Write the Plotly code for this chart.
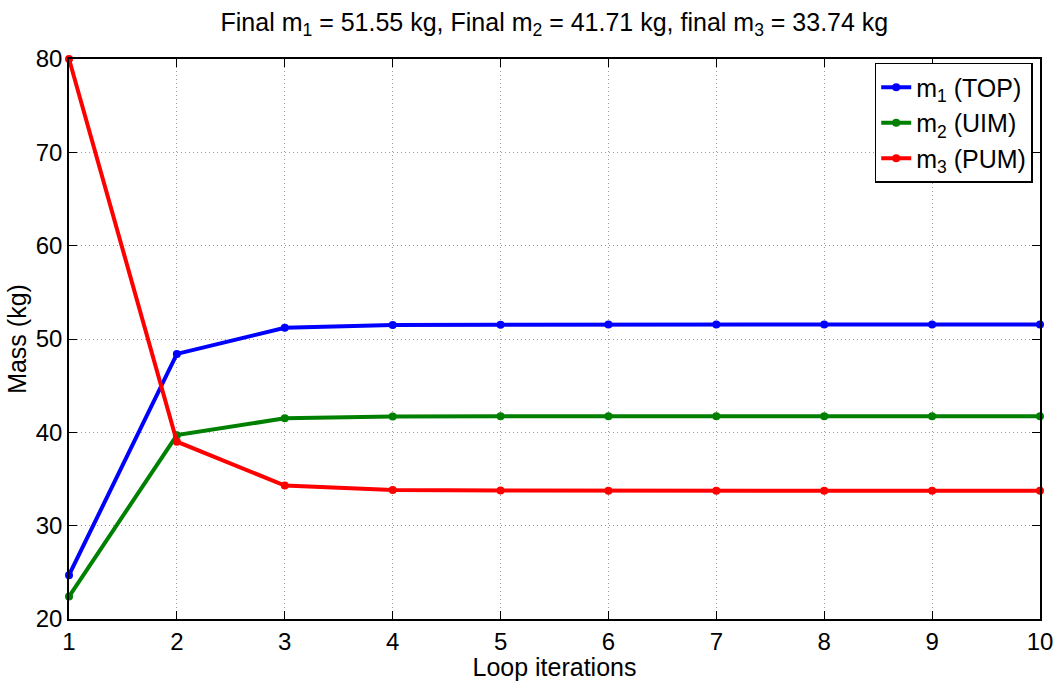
import plotly.graph_objects as go

# Mass of each stage per loop iteration
iterations = [1, 2, 3, 4, 5, 6, 7, 8, 9, 10]
m1_top = [24.7, 48.4, 51.2, 51.5, 51.54, 51.55, 51.55, 51.55, 51.55, 51.55]
m2_uim = [22.4, 39.7, 41.5, 41.69, 41.71, 41.71, 41.71, 41.71, 41.71, 41.71]
m3_pum = [80.0, 39.0, 34.3, 33.83, 33.76, 33.74, 33.74, 33.74, 33.74, 33.74]

series = [
    ("m<sub>1</sub> (TOP)", m1_top, "#0000ff"),
    ("m<sub>2</sub> (UIM)", m2_uim, "#008000"),
    ("m<sub>3</sub> (PUM)", m3_pum, "#ff0000"),
]

fig = go.Figure()
for name, vals, color in series:
    fig.add_trace(go.Scatter(
        x=iterations, y=vals, name=name, mode="lines+markers",
        line=dict(color=color, width=4),
        marker=dict(color=color, size=8),
        cliponaxis=False,
    ))

font_family = "Liberation Sans, Arial, sans-serif"
axis_common = dict(
    showline=True, linecolor="black", linewidth=1.5, mirror="ticks",
    ticks="inside", ticklen=8, tickcolor="black", tickwidth=1.2,
    showgrid=True, gridcolor="#9a9a9a", griddash="1px,3px", gridwidth=1,
    zeroline=False, automargin=False,
    tickfont=dict(size=24, color="black", family=font_family),
)

fig.update_layout(
    width=1056, height=681,
    paper_bgcolor="white", plot_bgcolor="white",
    margin=dict(l=69, r=16, t=59, b=62),
    font=dict(family=font_family, color="black"),
    title=dict(
        text="Final m<sub>1</sub> = 51.55 kg, Final m<sub>2</sub> = 41.71 kg, final m<sub>3</sub> = 33.74 kg",
        x=0.525, xanchor="center", yref="container", y=0.968, yanchor="middle",
        font=dict(size=25, color="black", family=font_family),
    ),
    xaxis=dict(
        range=[1, 10], tickvals=iterations, ticktext=[str(i) for i in iterations],
        title=dict(text="Loop iterations", font=dict(size=25), standoff=0),
        ticklabelstandoff=0,
        **axis_common,
    ),
    yaxis=dict(
        range=[20, 80], tickvals=[20, 30, 40, 50, 60, 70, 80],
        title=dict(text="Mass (kg)", font=dict(size=25), standoff=2),
        **axis_common,
    ),
    legend=dict(
        x=0.9925, xanchor="right", y=0.993, yanchor="top",
        bordercolor="black", borderwidth=1.5, bgcolor="white",
        font=dict(size=25, color="black", family=font_family),
        tracegroupgap=0, itemwidth=30,
    ),
    showlegend=True,
)

fig.write_html("out.html")
